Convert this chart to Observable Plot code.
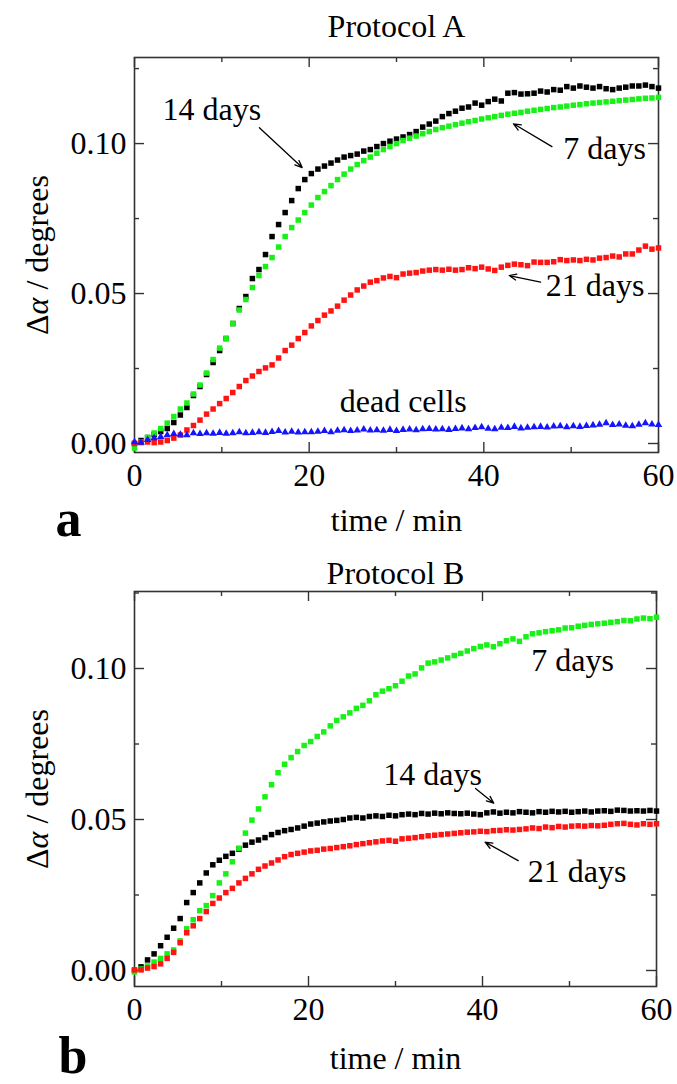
<!DOCTYPE html>
<html>
<head>
<meta charset="utf-8">
<script src="https://cdn.jsdelivr.net/npm/d3@7"></script>
<script src="https://cdn.jsdelivr.net/npm/@observablehq/plot@0.6"></script>
<style>
  body { margin: 0; background: #fff; }
  #chart svg { display: block; }
</style>
</head>
<body>
<div id="chart"></div>
<script>
// ---------- data ----------
const time = [
  0, 0.75, 1.5, 2.25, 3, 3.75, 4.5, 5.25,
  6, 6.75, 7.5, 8.25, 9, 9.75, 10.5, 11.25,
  12, 12.75, 13.5, 14.25, 15, 15.75, 16.5, 17.25,
  18, 18.75, 19.5, 20.25, 21, 21.75, 22.5, 23.25,
  24, 24.75, 25.5, 26.25, 27, 27.75, 28.5, 29.25,
  30, 30.75, 31.5, 32.25, 33, 33.75, 34.5, 35.25,
  36, 36.75, 37.5, 38.25, 39, 39.75, 40.5, 41.25,
  42, 42.75, 43.5, 44.25, 45, 45.75, 46.5, 47.25,
  48, 48.75, 49.5, 50.25, 51, 51.75, 52.5, 53.25,
  54, 54.75, 55.5, 56.25, 57, 57.75, 58.5, 59.25,
  60
];

// Protocol A
const a14days = [
  0.0000, 0.0010, 0.0020, 0.0030, 0.0040, 0.0050, 0.0070, 0.0095,
  0.0120, 0.0160, 0.0190, 0.0230, 0.0270, 0.0310, 0.0350, 0.0400,
  0.0450, 0.0490, 0.0550, 0.0580, 0.0630, 0.0690, 0.0730, 0.0770,
  0.0810, 0.0850, 0.0880, 0.0900, 0.0915, 0.0925, 0.0935, 0.0945,
  0.0955, 0.0960, 0.0965, 0.0975, 0.0980, 0.0990, 0.1000, 0.1008,
  0.1015, 0.1022, 0.1030, 0.1040, 0.1055, 0.1065, 0.1075, 0.1090,
  0.1100, 0.1108, 0.1118, 0.1122, 0.1135, 0.1128, 0.1140, 0.1148,
  0.1142, 0.1168, 0.1170, 0.1165, 0.1166, 0.1168, 0.1175, 0.1172,
  0.1180, 0.1178, 0.1190, 0.1185, 0.1192, 0.1188, 0.1185, 0.1190,
  0.1183, 0.1180, 0.1185, 0.1188, 0.1192, 0.1192, 0.1195, 0.1190,
  0.1185
];
const a7days = [
  -0.0015, 0.0005, 0.0020, 0.0035, 0.0050, 0.0068, 0.0090, 0.0115,
  0.0135, 0.0165, 0.0195, 0.0235, 0.0280, 0.0318, 0.0350, 0.0400,
  0.0445, 0.0480, 0.0520, 0.0560, 0.0590, 0.0620, 0.0655, 0.0690,
  0.0720, 0.0745, 0.0770, 0.0795, 0.0820, 0.0840, 0.0860, 0.0880,
  0.0898, 0.0915, 0.0930, 0.0943, 0.0955, 0.0968, 0.0980, 0.0990,
  0.1000, 0.1010, 0.1018, 0.1025, 0.1033, 0.1040, 0.1047, 0.1053,
  0.1058, 0.1063, 0.1068, 0.1073, 0.1077, 0.1082, 0.1086, 0.1090,
  0.1094, 0.1098, 0.1101, 0.1104, 0.1108, 0.1111, 0.1114, 0.1117,
  0.1120, 0.1122, 0.1125, 0.1128, 0.1130, 0.1133, 0.1135, 0.1137,
  0.1139, 0.1141, 0.1143, 0.1145, 0.1147, 0.1149, 0.1151, 0.1152,
  0.1154
];
const a21days = [
  0.0000, 0.0003, 0.0005, 0.0003, 0.0005, 0.0010, 0.0018, 0.0028,
  0.0045, 0.0060, 0.0078, 0.0098, 0.0115, 0.0133, 0.0150, 0.0170,
  0.0190, 0.0210, 0.0225, 0.0240, 0.0252, 0.0262, 0.0285, 0.0310,
  0.0328, 0.0350, 0.0370, 0.0392, 0.0410, 0.0428, 0.0442, 0.0458,
  0.0478, 0.0495, 0.0512, 0.0525, 0.0538, 0.0543, 0.0552, 0.0557,
  0.0553, 0.0565, 0.0568, 0.0570, 0.0575, 0.0578, 0.0580, 0.0578,
  0.0581, 0.0578, 0.0580, 0.0586, 0.0583, 0.0588, 0.0582, 0.0577,
  0.0588, 0.0594, 0.0598, 0.0596, 0.0593, 0.0605, 0.0604, 0.0604,
  0.0606, 0.0613, 0.0610, 0.0612, 0.0610, 0.0614, 0.0612, 0.0618,
  0.0620, 0.0625, 0.0622, 0.0632, 0.0632, 0.0645, 0.0658, 0.0648,
  0.0652
];
const aDeadCells = [
  0.0005, 0.0003, 0.0012, 0.0018, 0.0022, 0.0028, 0.0032, 0.0030,
  0.0028, 0.0035, 0.0032, 0.0035, 0.0033, 0.0036, 0.0033, 0.0035,
  0.0038, 0.0035, 0.0036, 0.0038, 0.0036, 0.0039, 0.0042, 0.0037,
  0.0040, 0.0037, 0.0038, 0.0038, 0.0040, 0.0042, 0.0038, 0.0043,
  0.0045, 0.0042, 0.0044, 0.0047, 0.0044, 0.0045, 0.0043, 0.0046,
  0.0042, 0.0046, 0.0047, 0.0045, 0.0048, 0.0049, 0.0047, 0.0048,
  0.0046, 0.0049, 0.0051, 0.0048, 0.0052, 0.0055, 0.0050, 0.0048,
  0.0053, 0.0052, 0.0056, 0.0051, 0.0053, 0.0055, 0.0056, 0.0054,
  0.0057, 0.0058, 0.0055, 0.0058, 0.0056, 0.0059, 0.0061, 0.0063,
  0.0068, 0.0062, 0.0064, 0.0060, 0.0058, 0.0063, 0.0068, 0.0064,
  0.0062
];

// Protocol B
const b7days = [
  -0.0005, 0.0005, 0.0015, 0.0028, 0.0040, 0.0055, 0.0068, 0.0098,
  0.0138, 0.0168, 0.0198, 0.0215, 0.0248, 0.0290, 0.0320, 0.0360,
  0.0405, 0.0455, 0.0498, 0.0535, 0.0575, 0.0615, 0.0655, 0.0683,
  0.0705, 0.0725, 0.0745, 0.0758, 0.0775, 0.0790, 0.0810, 0.0828,
  0.0840, 0.0853, 0.0868, 0.0878, 0.0893, 0.0913, 0.0925, 0.0933,
  0.0943, 0.0958, 0.0975, 0.0982, 0.1002, 0.1018, 0.1022, 0.1028,
  0.1035, 0.1043, 0.1050, 0.1058, 0.1066, 0.1073, 0.1078, 0.1072,
  0.1082, 0.1092, 0.1098, 0.1090, 0.1105, 0.1115, 0.1118, 0.1122,
  0.1125, 0.1128, 0.1134, 0.1135, 0.1140, 0.1143, 0.1146, 0.1148,
  0.1150, 0.1153, 0.1155, 0.1159, 0.1158, 0.1164, 0.1167, 0.1165,
  0.1170
];
const b14days = [
  0.0000, 0.0012, 0.0035, 0.0055, 0.0082, 0.0110, 0.0140, 0.0172,
  0.0225, 0.0258, 0.0290, 0.0323, 0.0350, 0.0365, 0.0378, 0.0388,
  0.0402, 0.0415, 0.0425, 0.0432, 0.0440, 0.0450, 0.0457, 0.0463,
  0.0467, 0.0472, 0.0478, 0.0485, 0.0488, 0.0492, 0.0495, 0.0497,
  0.0500, 0.0505, 0.0507, 0.0505, 0.0510, 0.0512, 0.0510, 0.0514,
  0.0512, 0.0516, 0.0518, 0.0516, 0.0520, 0.0518, 0.0521, 0.0519,
  0.0522, 0.0520, 0.0519, 0.0521, 0.0518, 0.0516, 0.0522, 0.0525,
  0.0521, 0.0524, 0.0522, 0.0526, 0.0524, 0.0522, 0.0526, 0.0524,
  0.0527, 0.0525, 0.0527, 0.0524, 0.0526, 0.0528, 0.0525, 0.0528,
  0.0529, 0.0527, 0.0531, 0.0530, 0.0528, 0.0529, 0.0528, 0.0530,
  0.0528
];
const b21days = [
  0.0002, 0.0002, 0.0008, 0.0013, 0.0022, 0.0040, 0.0060, 0.0092,
  0.0125, 0.0148, 0.0172, 0.0195, 0.0222, 0.0240, 0.0258, 0.0272,
  0.0290, 0.0305, 0.0320, 0.0335, 0.0346, 0.0356, 0.0366, 0.0377,
  0.0384, 0.0388, 0.0392, 0.0396, 0.0398, 0.0402, 0.0404, 0.0407,
  0.0410, 0.0413, 0.0417, 0.0420, 0.0423, 0.0426, 0.0429, 0.0431,
  0.0428, 0.0436, 0.0438, 0.0440, 0.0443, 0.0446, 0.0448, 0.0450,
  0.0452, 0.0454, 0.0456, 0.0458, 0.0459, 0.0461, 0.0460, 0.0463,
  0.0464, 0.0466, 0.0465, 0.0467, 0.0469, 0.0472, 0.0470, 0.0475,
  0.0473, 0.0477, 0.0475, 0.0478, 0.0479, 0.0478, 0.0480, 0.0479,
  0.0481, 0.0484, 0.0486, 0.0487, 0.0484, 0.0482, 0.0486, 0.0484,
  0.0486
];

// ticks
const xMajorTicks = [0, 20, 40, 60];
const xMinorTicks = [10, 30, 50];
const yMajorTicks = [0, 0.05, 0.10];
const yMinorTicks = [0.025, 0.075, 0.125];

// annotation texts
const labelTextsA = ["14 days", "7 days", "21 days", "dead cells"];
const labelTextsB = ["7 days", "14 days", "21 days"];

// ---------- layout / annotation placement ----------
const labelsA = [
  {text: labelTextsA[0], x: 3.2, y: 0.1077},
  {text: labelTextsA[1], x: 49.1, y: 0.0950},
  {text: labelTextsA[2], x: 47.1, y: 0.0493},
  {text: labelTextsA[3], x: 23.5, y: 0.0104}
];
const arrowsA = [
  {x1: 14.3, y1: 0.1053, x2: 19.2, y2: 0.0920},
  {x1: 47.8, y1: 0.0990, x2: 43.4, y2: 0.1066},
  {x1: 46.5, y1: 0.0538, x2: 42.9, y2: 0.0560}
];
const labelsB = [
  {text: labelTextsB[0], x: 45.6, y: 0.0993},
  {text: labelTextsB[1], x: 28.6, y: 0.0613},
  {text: labelTextsB[2], x: 45.2, y: 0.0292}
];
const arrowsB = [
  {x1: 39.2, y1: 0.0603, x2: 41.3, y2: 0.0554},
  {x1: 44.1, y1: 0.0364, x2: 40.3, y2: 0.0425}
];

const GREEN = "#18f018", RED = "#ff1414", BLUE = "#1414ff", BLACK = "#000";
const FONT = "'Liberation Serif', 'Times New Roman', Times, serif";

function rows(values) {
  return time.map((t, i) => ({t, v: values[i]}));
}

function panel(o) {
  const W = 677, ml = 134;
  const fw = W - ml - o.mr, fh = o.height - o.mt - o.mb;
  const MAJ = 10, MIN = 5, tickColor = "#333";
  const dotMarks = o.series.map(s =>
    Plot.dot(rows(s.values), {x: "t", y: "v", symbol: s.symbol, r: s.r, fill: s.color})
  );
  const svg = Plot.plot({
    width: W, height: o.height,
    marginLeft: ml, marginRight: o.mr, marginTop: o.mt, marginBottom: o.mb,
    style: {fontFamily: FONT, fontSize: "32px", background: "white", color: "black", overflow: "visible"},
    x: {domain: [0, 60], axis: null},
    y: {domain: o.ydomain},
    marks: [
      // x tick labels, centred about 23 px under the frame
      Plot.text(xMajorTicks, {x: d => d, text: d => String(d), frameAnchor: "bottom", dy: 23, textAnchor: "middle", lineAnchor: "middle", fontSize: 32, fill: "black"}),
      Plot.axisY(yMajorTicks, {tickSize: 0, tickPadding: 8, fontSize: 32, tickFormat: ".2f", label: null}),
      // inward ticks on all four sides
      Plot.ruleX(xMajorTicks, {x: d => d, insetTop: fh - MAJ, stroke: tickColor, strokeWidth: 1.4}),
      Plot.ruleX(xMajorTicks, {x: d => d, insetBottom: fh - MAJ, stroke: tickColor, strokeWidth: 1.4}),
      Plot.ruleX(xMinorTicks, {x: d => d, insetTop: fh - MIN, stroke: tickColor, strokeWidth: 1.4}),
      Plot.ruleX(xMinorTicks, {x: d => d, insetBottom: fh - MIN, stroke: tickColor, strokeWidth: 1.4}),
      Plot.ruleY(yMajorTicks, {y: d => d, insetRight: fw - MAJ, stroke: tickColor, strokeWidth: 1.4}),
      Plot.ruleY(yMajorTicks, {y: d => d, insetLeft: fw - MAJ, stroke: tickColor, strokeWidth: 1.4}),
      Plot.ruleY(yMinorTicks, {y: d => d, insetRight: fw - MIN, stroke: tickColor, strokeWidth: 1.4}),
      Plot.ruleY(yMinorTicks, {y: d => d, insetLeft: fw - MIN, stroke: tickColor, strokeWidth: 1.4}),
      Plot.frame({stroke: "#333", strokeWidth: 1.6}),
      ...dotMarks,
      Plot.arrow(o.arrows, {x1: "x1", y1: "y1", x2: "x2", y2: "y2", stroke: "black", strokeWidth: 1.3, headLength: 9, headAngle: 45}),
      Plot.text(o.labels, {x: "x", y: "y", text: "text", textAnchor: "start", lineAnchor: "bottom", fontSize: 32, fill: "black"}),
      Plot.text([o.title], {frameAnchor: "top", dy: o.titleDy, textAnchor: "middle", lineAnchor: "bottom", fontSize: 32, fill: "black"}),
      Plot.text(["time / min"], {frameAnchor: "bottom", dy: o.xlabelDy, textAnchor: "middle", lineAnchor: "bottom", fontSize: 32, fill: "black"}),
      Plot.text(["Δα / degrees"], {frameAnchor: "left", dx: -97, rotate: -90, textAnchor: "middle", lineAnchor: "middle", fontSize: 32, fill: "black"}),
      Plot.text([o.letter], {frameAnchor: "bottom-left", dx: o.letterDx, dy: o.letterDy, textAnchor: "start", lineAnchor: "bottom", fontSize: 52, fontWeight: "bold", fill: "black"})
    ]
  });
  // italic alpha in the y-axis title
  d3.select(svg).selectAll("text").filter(function () { return this.textContent === "Δα / degrees"; })
    .each(function () {
      const t = d3.select(this);
      t.attr("text-anchor", "middle");
      t.text(null);
      t.append("tspan").text("Δ");
      t.append("tspan").attr("font-style", "italic").text("α");
      t.append("tspan").text(" / degrees");
    });
  return svg;
}

const chart = document.getElementById("chart");

chart.appendChild(panel({
  height: 540, mt: 57, mb: 88, mr: 19,
  ydomain: [-0.003, 0.1287],
  title: "Protocol A", titleDy: -21, xlabelDy: 78,
  letter: "a", letterDx: -79, letterDy: 83,
  labels: labelsA, arrows: arrowsA,
  series: [
    {values: a14days, color: BLACK, symbol: "square", r: 3.1},
    {values: a7days, color: GREEN, symbol: "square", r: 3.1},
    {values: a21days, color: RED, symbol: "square", r: 3.1},
    {values: aDeadCells, color: BLUE, symbol: "triangle", r: 2.8}
  ]
}));

chart.appendChild(panel({
  height: 544, mt: 51, mb: 98, mr: 21,
  ydomain: [-0.0053, 0.1255],
  title: "Protocol B", titleDy: -8, xlabelDy: 82,
  letter: "b", letterDx: -76, letterDy: 86,
  labels: labelsB, arrows: arrowsB,
  series: [
    {values: b14days, color: BLACK, symbol: "square", r: 3.1},
    {values: b7days, color: GREEN, symbol: "square", r: 3.1},
    {values: b21days, color: RED, symbol: "square", r: 3.1}
  ]
}));
</script>
</body>
</html>
